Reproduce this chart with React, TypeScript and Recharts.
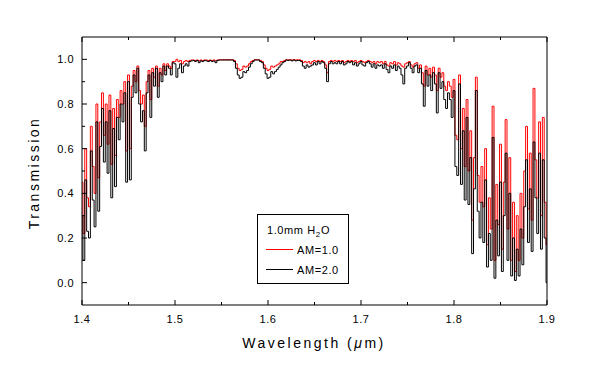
import { LineChart, Line, XAxis, YAxis, Legend } from "recharts";

// sampling grid of the spectrum (µm)
const WL_START = 1.4;
const WL_STEP = 0.002;

// transmission, AM=1.0 (red)
const AM1 = [
  // 1.400 - 1.498
  0.45, 0.22, 0.6, 0.38, 0.34, 0.7, 0.52, 0.4, 0.8, 0.47,
  0.72, 0.85, 0.66, 0.8, 0.62, 0.84, 0.53, 0.78, 0.57, 0.82,
  0.74, 0.86, 0.8, 0.9, 0.59, 0.93, 0.6, 0.88, 0.95, 0.9,
  0.97, 0.86, 0.8, 0.84, 0.7, 0.9, 0.95, 0.82, 0.96, 0.92,
  0.97, 0.88, 0.96, 0.93, 0.98, 0.95, 0.98, 0.97, 0.96, 0.99,
  // 1.500 - 1.748
  0.99, 1.0, 0.99, 0.995, 0.98, 0.99, 0.995, 0.99, 0.995, 0.997,
  0.997, 0.995, 0.997, 0.993, 0.997, 0.995, 0.997, 0.997, 0.995, 0.997,
  0.995, 0.997, 0.993, 0.997, 0.998, 0.998, 0.998, 0.998, 0.998, 0.998,
  0.998, 0.998, 0.995, 0.98, 0.96, 0.95, 0.955, 0.97, 0.965, 0.97,
  0.98, 0.99, 0.995, 0.998, 0.998, 0.998, 0.995, 0.99, 0.975, 0.96,
  0.95, 0.955, 0.97, 0.965, 0.97, 0.975, 0.98, 0.99, 0.99, 0.995,
  0.998, 0.998, 0.998, 0.997, 0.998, 0.997, 0.998, 0.998, 0.995, 0.985,
  0.99, 0.985, 0.99, 0.98, 0.99, 0.995, 0.99, 0.995, 0.99, 0.995,
  0.99, 0.975, 0.94, 0.99, 0.995, 0.99, 0.995, 0.99, 0.995, 0.99,
  0.995, 0.985, 0.99, 0.995, 0.99, 0.995, 0.99, 0.995, 0.985, 0.99,
  0.995, 0.99, 0.985, 0.99, 0.995, 0.99, 0.985, 0.99, 0.98, 0.99,
  0.985, 0.99, 0.98, 0.99, 0.975, 0.97, 0.985, 0.98, 0.99, 0.975,
  0.985, 0.98, 0.97, 0.965, 0.98,
  // 1.750 - 1.900
  0.985, 0.99, 0.975, 0.965, 0.98, 0.985, 0.96, 0.975, 0.94, 0.88,
  0.97, 0.93, 0.96, 0.92, 0.965, 0.93, 0.86, 0.96, 0.92, 0.94,
  0.88, 0.86, 0.9, 0.88, 0.83, 0.91, 0.66, 0.64, 0.93, 0.6,
  0.78, 0.52, 0.82, 0.5, 0.68, 0.28, 0.56, 0.92, 0.48, 0.36,
  0.52, 0.34, 0.6, 0.17, 0.38, 0.24, 0.79, 0.1, 0.44, 0.26,
  0.62, 0.15, 0.45, 0.73, 0.24, 0.56, 0.1, 0.36, 0.05, 0.3,
  0.1, 0.4, 0.2, 0.5, 0.7, 0.33, 0.58, 0.28, 0.87, 0.55,
  0.38, 0.72, 0.3, 0.74, 0.36, 0.17,
];

// transmission, AM=2.0 (black)
const AM2 = [
  // 1.400 - 1.498
  0.3, 0.1, 0.46, 0.23, 0.2, 0.59, 0.37, 0.25, 0.72, 0.32,
  0.61, 0.78, 0.54, 0.72, 0.49, 0.77, 0.38, 0.69, 0.43, 0.74,
  0.64, 0.8, 0.72, 0.85, 0.45, 0.9, 0.46, 0.83, 0.93, 0.85,
  0.96, 0.8, 0.72, 0.77, 0.59, 0.85, 0.93, 0.74, 0.94, 0.88,
  0.96, 0.83, 0.94, 0.9, 0.97, 0.93, 0.97, 0.96, 0.93, 0.985,
  // 1.500 - 1.748
  0.98, 0.92, 0.96, 0.98, 0.94, 0.97, 0.98, 0.97, 0.99, 0.993,
  0.995, 0.99, 0.995, 0.985, 0.993, 0.99, 0.995, 0.993, 0.99, 0.995,
  0.99, 0.993, 0.985, 0.995, 0.997, 0.997, 0.997, 0.997, 0.997, 0.997,
  0.997, 0.997, 0.99, 0.96, 0.93, 0.915, 0.92, 0.945, 0.94, 0.95,
  0.965, 0.98, 0.99, 0.997, 0.997, 0.997, 0.99, 0.985, 0.96, 0.935,
  0.915, 0.92, 0.945, 0.935, 0.945, 0.955, 0.965, 0.975, 0.985, 0.99,
  0.997, 0.995, 0.997, 0.993, 0.997, 0.993, 0.995, 0.995, 0.99, 0.97,
  0.96, 0.975, 0.965, 0.97, 0.975, 0.985, 0.975, 0.99, 0.98, 0.99,
  0.985, 0.96, 0.9, 0.98, 0.99, 0.98, 0.985, 0.98, 0.99, 0.98,
  0.99, 0.975, 0.98, 0.99, 0.985, 0.99, 0.975, 0.985, 0.97, 0.98,
  0.99, 0.975, 0.97, 0.985, 0.99, 0.98, 0.965, 0.98, 0.96, 0.975,
  0.97, 0.975, 0.96, 0.98, 0.955, 0.94, 0.97, 0.96, 0.975, 0.95,
  0.97, 0.96, 0.93, 0.89, 0.96,
  // 1.750 - 1.900
  0.97, 0.985, 0.96, 0.94, 0.97, 0.975, 0.94, 0.96, 0.89, 0.79,
  0.95, 0.88, 0.93, 0.86, 0.94, 0.89, 0.76, 0.94, 0.87, 0.9,
  0.82, 0.78, 0.85, 0.82, 0.74, 0.86, 0.52, 0.48, 0.89, 0.44,
  0.68, 0.37, 0.74, 0.35, 0.56, 0.13, 0.42, 0.86, 0.32, 0.2,
  0.36, 0.18, 0.46, 0.07, 0.22, 0.1, 0.65, 0.02, 0.28, 0.12,
  0.45, 0.05, 0.3, 0.58, 0.1, 0.4, 0.03, 0.2, 0.01, 0.15,
  0.03, 0.24, 0.08, 0.34, 0.55, 0.18, 0.42, 0.14, 0.63, 0.38,
  0.22, 0.58, 0.15, 0.55, 0.2, 0.0,
];

const X_TICKS = [1.4, 1.45, 1.5, 1.55, 1.6, 1.65, 1.7, 1.75, 1.8, 1.85, 1.9];
const Y_TICKS = [0, 0.1, 0.2, 0.3, 0.4, 0.5, 0.6, 0.7, 0.8, 0.9, 1.0];

const data = AM1.map((v, i) => ({
  w: +(WL_START + i * WL_STEP).toFixed(3),
  am1: v,
  am2: AM2[i],
}));

const PLOT = { left: 82, top: 37, right: 547, bottom: 305 };
const FONT = "'Liberation Sans', Arial, sans-serif";

const isTenth = (v: number) => Math.abs(v * 10 - Math.round(v * 10)) < 1e-6;
const isFifth = (v: number) => Math.round(v * 10) % 2 === 0;

const BottomTick = ({ x, payload }: any) => {
  const major = isTenth(payload.value);
  return (
    <g>
      <line x1={x} x2={x} y1={PLOT.bottom} y2={PLOT.bottom - (major ? 5 : 3)} stroke="#000" />
      {major && (
        <text x={x} y={PLOT.bottom + 18} textAnchor="middle" fontSize={11} fontFamily={FONT} letterSpacing={0.5} fill="#000">
          {payload.value.toFixed(1)}
        </text>
      )}
    </g>
  );
};

const TopTick = ({ x, payload }: any) => {
  const major = isTenth(payload.value);
  return <line x1={x} x2={x} y1={PLOT.top} y2={PLOT.top + (major ? 5 : 3)} stroke="#000" />;
};

const LeftTick = ({ y, payload }: any) => {
  const major = isFifth(payload.value);
  return (
    <g>
      <line x1={PLOT.left} x2={PLOT.left + (major ? 5 : 3)} y1={y} y2={y} stroke="#000" />
      {major && (
        <text x={PLOT.left - 8} y={y + 4} textAnchor="end" fontSize={11} fontFamily={FONT} letterSpacing={0.5} fill="#000">
          {payload.value.toFixed(1)}
        </text>
      )}
    </g>
  );
};

const RightTick = ({ y, payload }: any) => {
  const major = isFifth(payload.value);
  return <line x1={PLOT.right} x2={PLOT.right - (major ? 5 : 3)} y1={y} y2={y} stroke="#000" />;
};

const LegendBox = () => (
  <svg width={92} height={70} style={{ display: "block" }}>
    <rect x={0.5} y={0.5} width={91} height={69} fill="#fff" stroke="#000" />
    <text x={10} y={20} fontSize={11} fontFamily={FONT} letterSpacing={0.6} fill="#000">
      1.0mm H<tspan fontSize={8} dy={3}>2</tspan>
      <tspan dy={-3}>O</tspan>
    </text>
    <line x1={9} x2={36} y1={35.5} y2={35.5} stroke="#ff0000" />
    <text x={40} y={40} fontSize={11} fontFamily={FONT} letterSpacing={0.6} fill="#000">
      AM=1.0
    </text>
    <line x1={9} x2={36} y1={55.5} y2={55.5} stroke="#000" />
    <text x={40} y={60} fontSize={11} fontFamily={FONT} letterSpacing={0.6} fill="#000">
      AM=2.0
    </text>
  </svg>
);

export default function App() {
  return (
    <div style={{ position: "absolute", left: 0, top: 0, width: 591, height: 382, background: "#fff" }}>
      <LineChart
        width={591}
        height={382}
        data={data}
        margin={{ top: PLOT.top - 10, right: 591 - PLOT.right - 10, bottom: 382 - PLOT.bottom - 30, left: PLOT.left - 30 }}
      >
        <XAxis
          dataKey="w"
          type="number"
          domain={[1.4, 1.9]}
          ticks={X_TICKS}
          interval={0}
          height={30}
          tickSize={0}
          tick={<BottomTick />}
          axisLine={{ stroke: "#000" }}
          label={{
            content: () => (
              <text x={314} y={348} textAnchor="middle" fontSize={14} fontFamily={FONT} letterSpacing={2.5} fill="#000">
                Wavelength (<tspan fontStyle="italic">μ</tspan>m)
              </text>
            ),
          }}
        />
        <XAxis
          xAxisId="top"
          orientation="top"
          dataKey="w"
          type="number"
          domain={[1.4, 1.9]}
          ticks={X_TICKS}
          interval={0}
          height={10}
          tickSize={0}
          tick={<TopTick />}
          axisLine={{ stroke: "#000" }}
        />
        <YAxis
          type="number"
          domain={[-0.1, 1.1]}
          ticks={Y_TICKS}
          interval={0}
          width={30}
          tickSize={0}
          tick={<LeftTick />}
          axisLine={{ stroke: "#000" }}
          label={{
            content: () => (
              <text
                x={39}
                y={173}
                textAnchor="middle"
                fontSize={14}
                fontFamily={FONT}
                letterSpacing={2.5}
                fill="#000"
                transform="rotate(-90 39 173)"
              >
                Transmission
              </text>
            ),
          }}
        />
        <YAxis
          yAxisId="right"
          orientation="right"
          type="number"
          domain={[-0.1, 1.1]}
          ticks={Y_TICKS}
          interval={0}
          width={10}
          tickSize={0}
          tick={<RightTick />}
          axisLine={{ stroke: "#000" }}
        />
        <Line type="step" dataKey="am1" stroke="#ff0000" strokeWidth={1} dot={false} isAnimationActive={false} />
        <Line type="step" dataKey="am2" stroke="#000000" strokeWidth={1} dot={false} isAnimationActive={false} />
        <Legend
          layout="horizontal"
          verticalAlign="middle"
          align="center"
          content={<LegendBox />}
          wrapperStyle={{ left: 257, top: 214, width: 92, height: 70 }}
        />
      </LineChart>
    </div>
  );
}
